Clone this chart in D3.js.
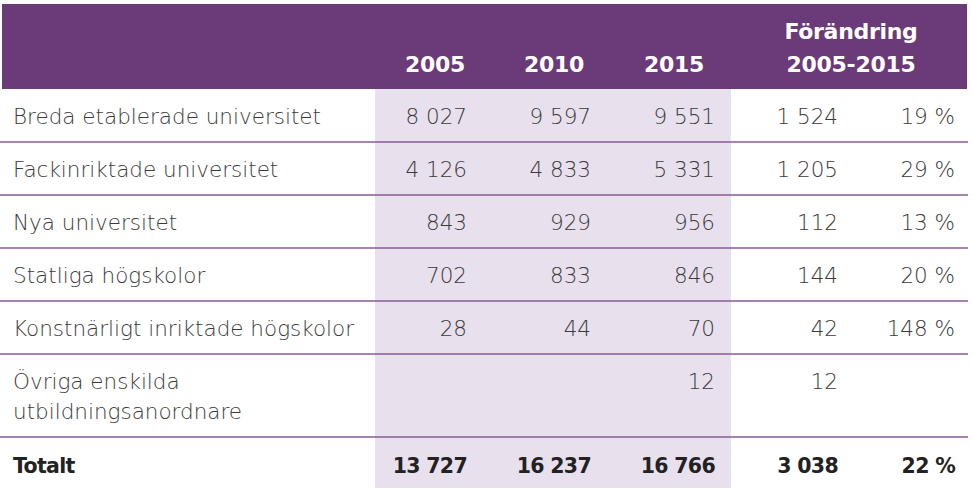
<!DOCTYPE html>
<html>
<head>
<meta charset="utf-8">
<script src="https://cdn.jsdelivr.net/npm/d3@7"></script>
<style>
  html, body { margin: 0; padding: 0; background: #fff; }
  svg { display: block; }
  .cell { font-family: "DejaVu Sans", sans-serif; font-weight: 200; font-size: 21.5px; fill: #3a3a3a; letter-spacing: 0px; }
  .total { font-weight: 700; fill: #222; letter-spacing: -0.7px; font-size: 20.5px; }
  .head { font-family: "DejaVu Sans", sans-serif; font-weight: 700; font-size: 22px; fill: #fff; letter-spacing: -0.3px; }
</style>
</head>
<body>
<div id="chart"></div>
<script>
const categories = [
    "Breda etablerade universitet",
    "Fackinriktade universitet",
    "Nya universitet",
    "Statliga högskolor",
    "Konstnärligt inriktade högskolor",
    "Övriga enskilda utbildningsanordnare"
];
const v2005 = [8027, 4126, 843, 702, 28, null];
const v2010 = [9597, 4833, 929, 833, 44, null];
const v2015 = [9551, 5331, 956, 846, 70, 12];
const change = [1524, 1205, 112, 144, 42, 12];
const changePct = [19, 29, 13, 20, 148, null];
const totalLabel = "Totalt";
const totals = [13727, 16237, 16766, 3038, 22];
const yearLabels = ["2005", "2010", "2015"];
const changeLabel = ["Förändring", "2005-2015"];

const width = 972, height = 490;
const purple = "#6b3a78";
const shade = "#e9e0ee";
const lineColor = "#8a5a97";

const locale = d3.formatLocale({ decimal: ",", thousands: "\u00a0", grouping: [3], currency: ["", " kr"] });
const fmtNum = locale.format(",d");
const fmtPct = (v) => `${v}\u00a0%`;

const columns = ["y2005", "y2010", "y2015", "change", "pct"];
const colRight = d3.scaleOrdinal().domain(columns).range([467, 591, 715, 838, 955]);

const svg = d3.select("#chart").append("svg")
    .attr("width", width)
    .attr("height", height);

const headTop = 4, headBottom = 89;
const baseRow = 53, lineStep = 30;
const labelX = 13, wrapWidth = 370;

// measure and wrap labels first so row heights follow the text
const probe = svg.append("text").attr("class", "cell");
function wrap(label) {
    const words = label.split(" ");
    const lines = [];
    let cur = "";
    words.forEach((w) => {
        const test = cur ? cur + " " + w : w;
        probe.text(test);
        if (probe.node().getComputedTextLength() > wrapWidth && cur) {
            lines.push(cur);
            cur = w;
        } else {
            cur = test;
        }
    });
    lines.push(cur);
    return lines;
}
const rows = categories.map((c, i) => ({
    lines: wrap(c),
    cells: { y2005: v2005[i], y2010: v2010[i], y2015: v2015[i], change: change[i], pct: changePct[i] }
}));
probe.remove();

let yCursor = headBottom;
rows.forEach((r) => {
    r.y0 = yCursor;
    r.h = baseRow + (r.lines.length - 1) * lineStep;
    yCursor += r.h;
});
const totalY0 = yCursor;

// shaded year columns
svg.append("rect")
    .attr("x", 375).attr("y", headBottom)
    .attr("width", 731 - 375).attr("height", height - headBottom - 2)
    .attr("fill", shade);

// header band
svg.append("rect")
    .attr("x", 2).attr("y", headTop)
    .attr("width", 965).attr("height", headBottom - headTop)
    .attr("fill", purple);

svg.selectAll(".year-head")
    .data(yearLabels)
    .enter().append("text")
    .attr("class", "head")
    .attr("x", (d, i) => colRight(columns[i]) - [2, 7, 11][i])
    .attr("y", 72)
    .attr("text-anchor", "end")
    .text((d) => d);

svg.selectAll(".change-head")
    .data(changeLabel)
    .enter().append("text")
    .attr("class", "head")
    .attr("x", 851)
    .attr("y", (d, i) => 39 + i * 33)
    .attr("text-anchor", "middle")
    .text((d) => d);

// row separators
const separators = rows.map((r) => r.y0 + r.h);
svg.selectAll(".sep")
    .data(separators)
    .enter().append("line")
    .attr("x1", 0).attr("x2", 968)
    .attr("y1", (d) => d).attr("y2", (d) => d)
    .attr("stroke", lineColor)
    .attr("stroke-width", 1.6);

const rowG = svg.selectAll(".row")
    .data(rows)
    .enter().append("g")
    .attr("transform", (d) => `translate(0,${d.y0})`);

rowG.append("text")
    .attr("class", "cell")
    .attr("x", labelX)
    .attr("y", 35)
    .each(function (d) {
        d3.select(this).selectAll("tspan")
            .data(d.lines)
            .enter().append("tspan")
            .attr("x", labelX)
            .attr("dy", (l, i) => (i === 0 ? 0 : lineStep))
            .text((l) => l);
    });

rowG.each(function (d) {
    const g = d3.select(this);
    columns.forEach((c) => {
        const v = d.cells[c];
        if (v == null) return;
        g.append("text")
            .attr("class", "cell")
            .attr("x", colRight(c))
            .attr("y", 35)
            .attr("text-anchor", "end")
            .text(c === "pct" ? fmtPct(v) : fmtNum(v));
    });
});

// total row
const totalG = svg.append("g").attr("transform", `translate(0,${totalY0})`);
totalG.append("text")
    .attr("class", "cell total")
    .attr("x", labelX)
    .attr("y", 36)
    .text(totalLabel);
totalG.selectAll(".tot")
    .data(totals)
    .enter().append("text")
    .attr("class", "cell total")
    .attr("x", (d, i) => colRight(columns[i]))
    .attr("y", 36)
    .attr("text-anchor", "end")
    .text((d, i) => (columns[i] === "pct" ? fmtPct(d) : fmtNum(d)));
</script>
</body>
</html>
